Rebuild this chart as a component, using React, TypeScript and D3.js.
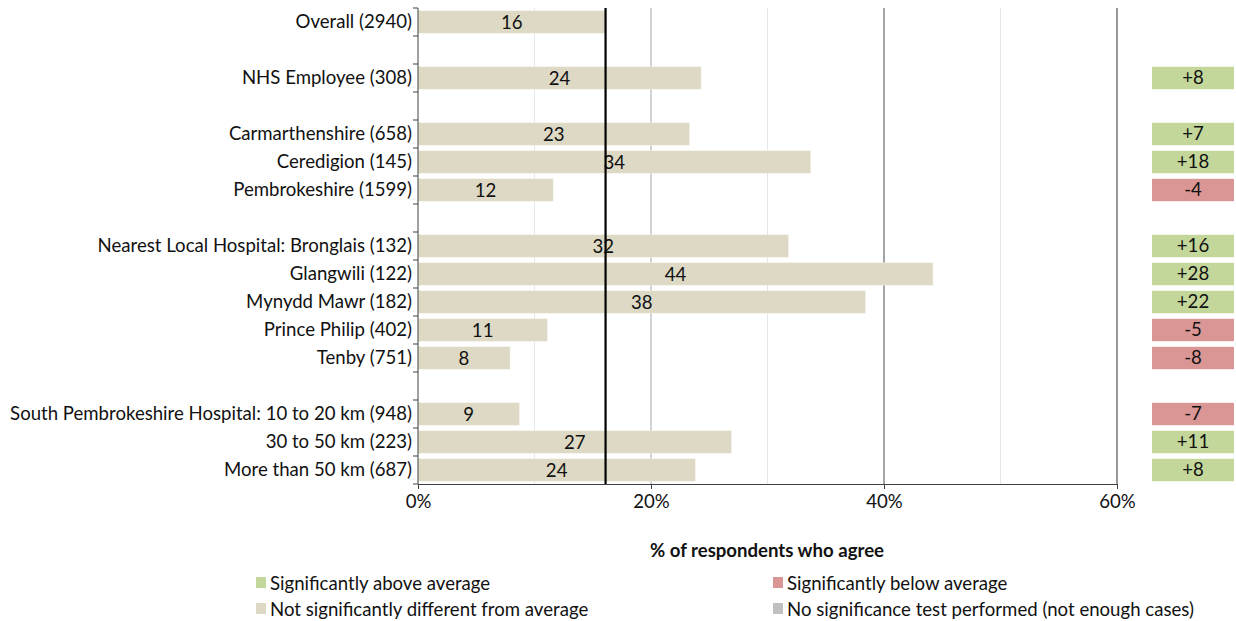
import * as d3 from "d3";
import React, {useEffect, useRef} from "react";

const categories = [
  "Overall (2940)",
  "NHS Employee (308)",
  "Carmarthenshire (658)",
  "Ceredigion (145)",
  "Pembrokeshire (1599)",
  "Nearest Local Hospital: Bronglais (132)",
  "Glangwili (122)",
  "Mynydd Mawr (182)",
  "Prince Philip (402)",
  "Tenby (751)",
  "South Pembrokeshire Hospital: 10 to 20 km (948)",
  "30 to 50 km (223)",
  "More than 50 km (687)",
];
// which block each row belongs to (blank row between blocks)
const groups = [0, 1, 2, 2, 2, 3, 3, 3, 3, 3, 4, 4, 4];
const values = [16.1, 24.3, 23.3, 33.7, 11.6, 31.8, 44.2, 38.4, 11.1, 7.9, 8.7, 26.9, 23.8];
const labels = ["16", "24", "23", "34", "12", "32", "44", "38", "11", "8", "9", "27", "24"];
const diffs = [null, 8, 7, 18, -4, 16, 28, 22, -5, -8, -7, 11, 8];
const averageValue = 16.1;
const xTicks = [0, 20, 40, 60];
const gridValues = [10, 20, 30, 40, 50];
const legendItems = [
  {label: "Significantly above average", color: "#c4d79b"},
  {label: "Significantly below average", color: "#da9694"},
  {label: "Not significantly different from average", color: "#ddd9c4"},
  {label: "No significance test performed (not enough cases)", color: "#c0c0c0"},
];

const FONT = "Lato, 'Liberation Sans', sans-serif";
const FS = '18.6px';

const App: React.FC = () => {
  const ref = useRef<SVGSVGElement | null>(null);

  useEffect(() => {
    const svg = d3.select(ref.current);
    svg.selectAll('*').remove();

    const width = 1236;
    const height = 621;
    const margin = {top: 8, left: 418, right: 1117, bottom: 484};

    svg.attr("width", width).attr("height", height).style("font-family", FONT);

    const slots = categories.map((_, i) => i + groups[i]);
    const nSlots = d3.max(slots)! + 1;

    const yScale = d3.scaleBand<number>()
      .domain(d3.range(nSlots))
      .range([margin.top, margin.bottom])
      .paddingInner(0.2)
      .paddingOuter(0.1);
    const step = yScale.step();

    const xScale = d3.scaleLinear()
      .domain([0, 60])
      .range([margin.left, margin.right]);

    // gridlines
    svg.append('g')
      .selectAll('line')
      .data(gridValues)
      .enter()
      .append('line')
      .attr('x1', d => xScale(d))
      .attr('x2', d => xScale(d))
      .attr('y1', margin.top)
      .attr('y2', margin.bottom)
      .attr('stroke', d => d === 20 ? '#a6a6a6' : d === 40 ? '#4a4a4a' : '#e6e6e6')
      .attr('stroke-width', 1);

    // right edge
    svg.append('line')
      .attr('x1', xScale(60)).attr('x2', xScale(60))
      .attr('y1', margin.top).attr('y2', margin.bottom)
      .attr('stroke', '#333');

    const rows = svg.selectAll('.row')
      .data(categories)
      .enter()
      .append('g')
      .attr('class', 'row')
      .attr('transform', (_, i) => `translate(0, ${yScale(slots[i])})`);

    rows.append('rect')
      .attr('x', xScale(0))
      .attr('width', (_, i) => xScale(values[i]) - xScale(0))
      .attr('height', yScale.bandwidth())
      .attr('fill', '#ddd9c4')
      .attr('stroke', '#f2f0e8')
      .attr('stroke-width', 0.5);

    rows.append('text')
      .attr('x', (_, i) => (xScale(0) + xScale(values[i])) / 2)
      .attr('y', yScale.bandwidth() / 2)
      .attr('dy', '0.36em')
      .attr('text-anchor', 'middle')
      .attr('fill', '#111')
      .style('font-size', FS)
      .text((_, i) => labels[i]);

    rows.append('text')
      .attr('x', margin.left - 6)
      .attr('y', yScale.bandwidth() / 2)
      .attr('dy', '0.3em')
      .attr('text-anchor', 'end')
      .attr('fill', '#111')
      .style('font-size', FS)
      .text(d => d);

    // significance boxes
    const boxes = rows.filter((_, i) => diffs[i] !== null);
    boxes.append('rect')
      .attr('x', 1152)
      .attr('width', 82)
      .attr('height', yScale.bandwidth())
      .attr('fill', d => (diffs[categories.indexOf(d)] as number) > 0 ? '#c4d79b' : '#da9694');
    boxes.append('text')
      .attr('x', 1193)
      .attr('y', yScale.bandwidth() / 2)
      .attr('dy', '0.3em')
      .attr('text-anchor', 'middle')
      .attr('fill', '#111')
      .style('font-size', FS)
      .text(d => {
        const v = diffs[categories.indexOf(d)] as number;
        return v > 0 ? `+${v}` : `${v}`;
      });

    // average line
    svg.append('line')
      .attr('x1', xScale(averageValue)).attr('x2', xScale(averageValue))
      .attr('y1', margin.top).attr('y2', margin.bottom)
      .attr('stroke', '#000')
      .attr('stroke-width', 2.2);

    // y axis with ticks at slot boundaries
    const yAxis = svg.append('g');
    yAxis.append('line')
      .attr('x1', margin.left).attr('x2', margin.left)
      .attr('y1', margin.top).attr('y2', margin.bottom)
      .attr('stroke', '#404040');
    yAxis.selectAll('.ytick')
      .data(d3.range(nSlots + 1))
      .enter()
      .append('line')
      .attr('x1', margin.left - 5).attr('x2', margin.left)
      .attr('y1', d => margin.top + d * step)
      .attr('y2', d => margin.top + d * step)
      .attr('stroke', '#404040');

    // x axis
    const xAxis = d3.axisBottom(xScale)
      .tickValues(xTicks)
      .tickSize(5)
      .tickFormat(d => `${d}%`);
    const xg = svg.append('g')
      .attr('transform', `translate(0, ${margin.bottom})`)
      .call(xAxis);
    xg.select('.domain').attr('stroke', '#404040');
    xg.selectAll('line').attr('stroke', '#404040');
    xg.selectAll('text')
      .attr('fill', '#111')
      .attr('dy', '0.85em')
      .style('font-size', FS)
      .style('font-family', FONT);

    svg.append('text')
      .attr('x', 767)
      .attr('y', 557)
      .attr('text-anchor', 'middle')
      .attr('fill', '#111')
      .style('font-size', FS)
      .style('font-weight', 'bold')
      .text('% of respondents who agree');

    const legend = svg.selectAll('.legend')
      .data(legendItems)
      .enter()
      .append('g')
      .attr('class', 'legend')
      .attr('transform', (_, i) => `translate(${i % 2 === 0 ? 256 : 773}, ${i < 2 ? 583 : 609})`);
    legend.append('rect')
      .attr('x', 0).attr('y', -6)
      .attr('width', 10).attr('height', 11)
      .attr('fill', d => d.color);
    legend.append('text')
      .attr('x', 14)
      .attr('y', 0)
      .attr('dy', '0.35em')
      .attr('fill', '#111')
      .style('font-size', FS)
      .text(d => d.label);

    return () => {
      svg.selectAll('*').remove();
    };
  }, []);

  return <svg ref={ref} style={{position: 'absolute', left: 0, top: 0}} />;
};

export default App;
